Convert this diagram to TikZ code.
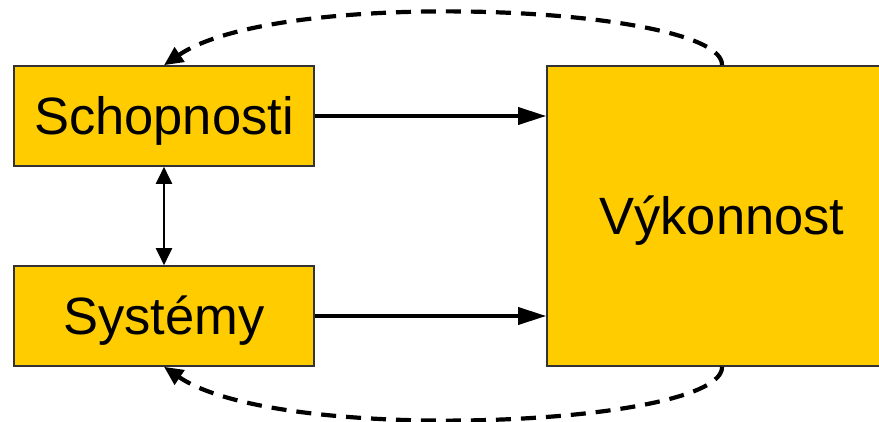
\documentclass[tikz,border=0pt]{standalone}
\usepackage{fontspec}
\setmainfont{Liberation Sans}
\usetikzlibrary{arrows.meta}
\definecolor{boxfill}{HTML}{FFCC00}
\definecolor{boxline}{HTML}{333333}
\begin{document}
\begin{tikzpicture}[x=1pt,y=-1pt,
  box/.style={draw=boxline,line width=1.6pt,fill=boxfill,inner sep=0pt,
    text height=37pt,text depth=0pt,
    font=\fontsize{52.5}{60}\selectfont},
  flow/.style={line width=3.5pt,-{Triangle[length=28pt,width=17pt]}},
  link/.style={line width=2pt,{Triangle[length=17pt,width=16pt]}-{Triangle[length=17pt,width=16pt]}},
  back/.style={line width=4.2pt,dash pattern=on 15pt off 10pt,-{Triangle[length=19pt,width=17pt]}}]
\useasboundingbox (0,0) rectangle (879,422);
\node[box,minimum width=350pt,minimum height=300pt] (vyk) at (722,216) {Výkonnost};
\node[box,minimum width=300pt,minimum height=100pt] (schop) at (164,116) {Schopnosti};
\node[box,minimum width=300pt,minimum height=100pt] (sys) at (164,316) {Systémy};
\draw[flow] (schop.east) -- (schop.east -| vyk.west);
\draw[flow] (sys.east) -- (sys.east -| vyk.west);
\draw[link] (schop.south) -- (sys.north);
\draw[back] (vyk.north) .. controls (724,6) and (280,-14) .. (schop.north);
\draw[back] (vyk.south) .. controls (724,426) and (280,446) .. (sys.south);
\end{tikzpicture}
\end{document}
